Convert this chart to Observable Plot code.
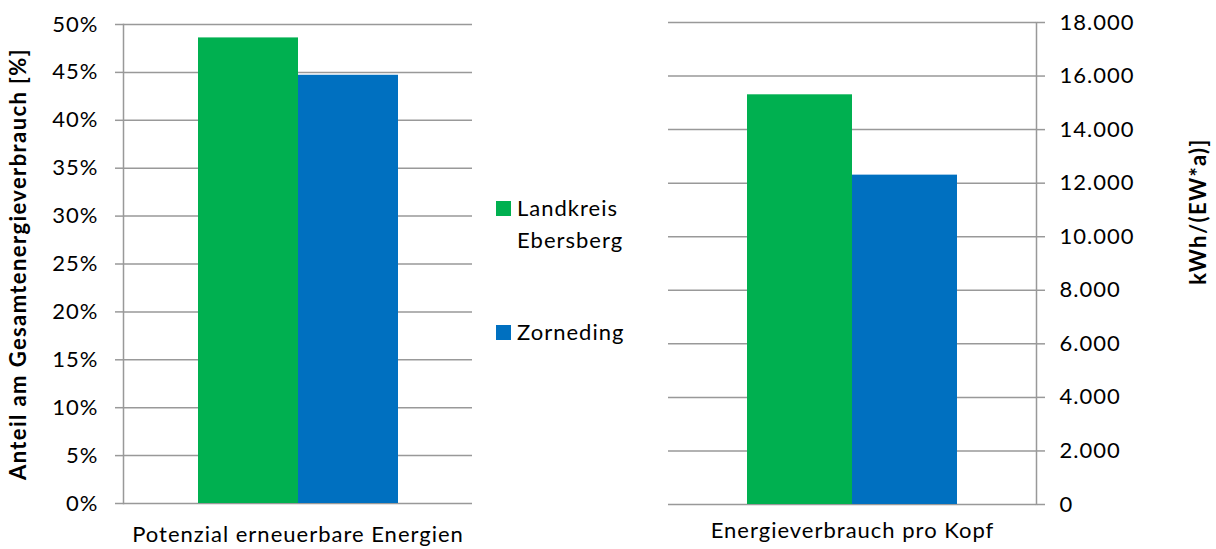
<!DOCTYPE html>
<html><head><meta charset="utf-8">
<script src="https://cdn.jsdelivr.net/npm/d3@7"></script>
<script src="https://cdn.jsdelivr.net/npm/@observablehq/plot@0.6"></script>
<style>
body{margin:0;background:#fff;font-family:Lato,"Open Sans",sans-serif;}
#wrap{position:relative;width:1216px;height:549px;overflow:hidden;background:#fff;}
#left{position:absolute;left:0;top:0;}
#right{position:absolute;left:640px;top:0;}
#legend{position:absolute;left:496px;top:0;font-size:22px;letter-spacing:1px;color:#000;}
.item{position:absolute;left:0;white-space:nowrap;}
.sw{position:absolute;left:0;width:15px;height:15px;}
.lab{position:absolute;left:21px;line-height:32px;}
svg text{letter-spacing:1px;}
svg g[font-weight="bold"] text{letter-spacing:1.4px;}
</style></head>
<body><div id="wrap"><div id="left"></div><div id="legend"></div><div id="right"></div></div>
<script>
const series = ["Landkreis Ebersberg", "Zorneding"];
const seriesLines = [["Landkreis", "Ebersberg"], ["Zorneding"]];
const colors = ["#00B050", "#0070C0"];
const categories = ["Potenzial erneuerbare Energien", "Energieverbrauch pro Kopf"];
const shareRenewable = [0.486, 0.447];
const perCapita = [15300, 12300];
const pctTicks = [0, 0.05, 0.10, 0.15, 0.20, 0.25, 0.30, 0.35, 0.40, 0.45, 0.50];
const kwhTicks = [0, 2000, 4000, 6000, 8000, 10000, 12000, 14000, 16000, 18000];
const leftTitle = "Anteil am Gesamtenergieverbrauch [%]";
const rightTitle = "kWh/(EW*a)]";

const grid = "#999";
const font = "Lato, 'Open Sans', sans-serif";
const de = d3.formatLocale({decimal: ",", thousands: ".", grouping: [3], currency: ["", " €"]});
const fmtKwh = de.format(",d");
const fmtPct = d3.format(".0%");

const leftData = series.map((s, i) => ({cat: categories[0], series: s, value: shareRenewable[i]}));
const rightData = series.map((s, i) => ({cat: categories[1], series: s, value: perCapita[i]}));

const left = Plot.plot({
  width: 480, height: 549,
  marginLeft: 123, marginRight: 8, marginTop: 24, marginBottom: 46,
  style: {fontFamily: font, fontSize: "22px", color: "#000", background: "transparent", overflow: "visible"},
  fx: {domain: [categories[0]], padding: 0, label: null},
  x: {domain: series, paddingInner: 0, paddingOuter: 0.745, axis: null},
  y: {domain: [0, 0.5]},
  color: {domain: series, range: colors},
  marks: [
    Plot.gridY(pctTicks, {stroke: grid, strokeOpacity: 1, strokeWidth: 1.5}),
    Plot.axisY(pctTicks, {tickSize: 8, tickPadding: 17, tickFormat: fmtPct, stroke: grid, strokeOpacity: 1, strokeWidth: 1.5, label: null, fontSize: 22}),
    Plot.frame({anchor: "left", stroke: grid, strokeWidth: 1.5}),
    Plot.barY(leftData, {fx: "cat", x: "series", y: "value", fill: "series"}),
    Plot.axisFx({anchor: "bottom", tickSize: 0, tickPadding: 23, label: null, fontSize: 22}),
    Plot.text([leftTitle], {frameAnchor: "left", textAnchor: "middle", rotate: -90, dx: -105, fontWeight: "bold", fontSize: 22, fill: "#000"})
  ]
});
document.getElementById("left").appendChild(left);

const right = Plot.plot({
  width: 576, height: 549,
  marginLeft: 28, marginRight: 180, marginTop: 22, marginBottom: 45,
  style: {fontFamily: font, fontSize: "22px", color: "#000", background: "transparent", overflow: "visible"},
  fx: {domain: [categories[1]], padding: 0, label: null},
  x: {domain: series, paddingInner: 0, paddingOuter: 0.744, axis: null},
  y: {domain: [0, 18000]},
  color: {domain: series, range: colors},
  marks: [
    Plot.gridY(kwhTicks, {stroke: grid, strokeOpacity: 1, strokeWidth: 1.5}),
    Plot.axisY(kwhTicks, {anchor: "right", tickSize: 8, tickPadding: 15, tickFormat: fmtKwh, stroke: grid, strokeOpacity: 1, strokeWidth: 1.5, label: null, fontSize: 22}),
    Plot.frame({anchor: "right", stroke: grid, strokeWidth: 1.5}),
    Plot.barY(rightData, {fx: "cat", x: "series", y: "value", fill: "series"}),
    Plot.axisFx({anchor: "bottom", tickSize: 0, tickPadding: 18, label: null, fontSize: 22}),
    Plot.text([rightTitle], {frameAnchor: "right", textAnchor: "middle", rotate: -90, dx: 162, dy: -52, fontWeight: "bold", fontSize: 22, fill: "#000"})
  ]
});
document.getElementById("right").appendChild(right);

// legend
const legend = document.getElementById("legend");
const legendTops = [192, 316];
series.forEach((s, i) => {
  const item = document.createElement("div");
  item.className = "item";
  item.style.top = legendTops[i] + "px";
  const sw = document.createElement("div");
  sw.className = "sw";
  sw.style.background = colors[i];
  sw.style.top = "9px";
  item.appendChild(sw);
  const lab = document.createElement("div");
  lab.className = "lab";
  lab.innerHTML = seriesLines[i].join("<br>");
  item.appendChild(lab);
  legend.appendChild(item);
});
</script></body></html>
